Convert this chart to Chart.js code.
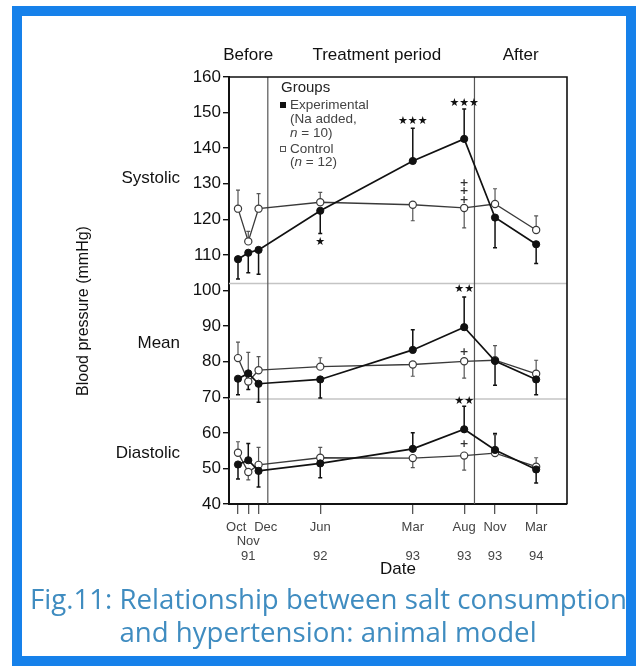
<!DOCTYPE html>
<html>
<head>
<meta charset="utf-8">
<script src="https://cdn.jsdelivr.net/npm/chart.js@4/dist/chart.umd.min.js"></script>
<style>
html,body{margin:0;padding:0;background:#fff;}
#wrap{position:relative;width:641px;height:667px;}
canvas{display:block;}
</style>
</head>
<body>
<div id="wrap"><canvas id="c" width="641" height="667"></canvas></div>
<script>
// ---- data (months since Oct 1991) ----
const months = [0, 1, 2, 8, 17, 22, 25, 29];
const monthLabels = [['Oct ', '', ''], ['', 'Nov', '91'], ['    Dec', '', ''], ['Jun', '', '92'], ['Mar', '', '93'], ['Aug', '', '93'], ['Nov', '', '93'], ['Mar', '', '94']];

const sysExp = [108.8, 110.6, 111.4, 122.4, 136.4, 142.6, 120.5, 113.0];
const sysCtl = [123.0, 113.8, 123.0, 124.8, 124.1, 123.2, 124.3, 117.0];
const meanExp = [75.2, 76.7, 73.8, 75.0, 83.3, 89.7, 80.2, 75.0];
const meanCtl = [81.0, 74.4, 77.6, 78.6, 79.2, 80.1, 80.4, 76.6];
const diaExp = [51.1, 52.3, 49.3, 51.4, 55.5, 61.0, 55.2, 49.7];
const diaCtl = [54.4, 49.0, 51.0, 53.0, 52.9, 53.6, 54.3, 50.5];

// one-sided error bar end values
const sysExpErr = [103.2, 105.0, 104.6, 116.0, 145.6, 151.0, 112.0, 107.6];
const sysCtlErr = [128.2, 116.6, 127.2, 127.6, 119.6, 117.6, 128.6, 121.0];
const meanExpErr = [70.7, 72.2, 68.6, 69.8, 89.0, 98.2, 73.4, 70.7];
const meanCtlErr = [85.5, 82.6, 81.4, 81.1, 75.9, 75.4, 84.5, 80.4];
const diaExpErr = [47.0, 57.0, 44.8, 47.4, 60.0, 67.5, 59.8, 45.9];
const diaCtlErr = [57.5, 46.8, 55.9, 55.9, 50.2, 49.5, 59.5, 53.0];

const yTicks = [40, 50, 60, 70, 80, 90, 100, 110, 120, 130, 140, 150, 160];
const separators = [102, 69.5];
const treatmentBounds = [2.9, 23.0];
const periodLabels = [['Before', 1.0], ['Treatment period', 13.5], ['After', 27.5]];
const rowLabels = [['Systolic', 131.6], ['Mean', 85.2], ['Diastolic', 54.3]];
const sigMarks = [
  ['★', 8, 113.6], ['★★★', 17, 147.6], ['★★★', 22, 152.6],
  ['+', 22, 130.3], ['+', 22, 127.9], ['+', 22, 125.5],
  ['★★', 22, 100.3], ['+', 22, 82.8],
  ['★★', 22, 68.8], ['+', 22, 56.7]
];

const pts = arr => arr.map((v, i) => ({x: months[i], y: v}));

const EXP = '#111';
const CTL = '#3a3a3a';
function expSet(arr) {
  return {data: pts(arr), borderColor: EXP, borderWidth: 1.7, backgroundColor: EXP,
    pointRadius: 3.6, pointBackgroundColor: EXP, pointBorderColor: EXP, pointBorderWidth: 1, tension: 0};
}
function ctlSet(arr) {
  return {data: pts(arr), borderColor: CTL, borderWidth: 1.3, backgroundColor: '#fff',
    pointRadius: 3.6, pointBackgroundColor: '#fff', pointBorderColor: CTL, pointBorderWidth: 1.2, tension: 0};
}

const errSets = [
  [sysExp, sysExpErr, EXP, 1.5], [sysCtl, sysCtlErr, '#555', 1.2],
  [meanExp, meanExpErr, EXP, 1.5], [meanCtl, meanCtlErr, '#555', 1.2],
  [diaExp, diaExpErr, EXP, 1.5], [diaCtl, diaCtlErr, '#555', 1.2]
];

const deco = {
  id: 'deco',
  beforeDraw(chart) {
    const ctx = chart.ctx;
    ctx.save();
    ctx.fillStyle = '#fff';
    ctx.fillRect(0, 0, chart.width, chart.height);
    ctx.strokeStyle = '#1681ea';
    ctx.lineWidth = 10;
    ctx.strokeRect(17, 11, 614, 650);
    ctx.restore();
  },
  beforeDatasetsDraw(chart) {
    const ctx = chart.ctx, xs = chart.scales.x, ys = chart.scales.y, a = chart.chartArea;
    ctx.save();
    ctx.strokeStyle = '#c4c4c4';
    ctx.lineWidth = 1.5;
    separators.forEach(v => {
      const y = ys.getPixelForValue(v);
      ctx.beginPath(); ctx.moveTo(a.left, y); ctx.lineTo(a.right, y); ctx.stroke();
    });
    ctx.strokeStyle = '#555';
    ctx.lineWidth = 1.2;
    treatmentBounds.forEach(v => {
      const x = xs.getPixelForValue(v);
      ctx.beginPath(); ctx.moveTo(x, a.top); ctx.lineTo(x, a.bottom); ctx.stroke();
    });
    errSets.forEach(([vals, ends, col, w]) => {
      ctx.strokeStyle = col; ctx.lineWidth = w;
      vals.forEach((v, i) => {
        const x = xs.getPixelForValue(months[i]);
        const y0 = ys.getPixelForValue(v), y1 = ys.getPixelForValue(ends[i]);
        ctx.beginPath(); ctx.moveTo(x, y0); ctx.lineTo(x, y1);
        ctx.moveTo(x - 2, y1); ctx.lineTo(x + 2, y1); ctx.stroke();
      });
    });
    ctx.restore();
  },
  afterDraw(chart) {
    const ctx = chart.ctx, xs = chart.scales.x, ys = chart.scales.y, a = chart.chartArea;
    ctx.save();
    ctx.strokeStyle = '#111';
    ctx.lineWidth = 1.6;
    ctx.beginPath();
    ctx.moveTo(a.left, a.top); ctx.lineTo(a.right, a.top); ctx.lineTo(a.right, a.bottom);
    ctx.stroke();

    ctx.fillStyle = '#111';
    ctx.textBaseline = 'middle';
    ctx.font = '17px "Liberation Sans", Arial, sans-serif';
    ctx.textAlign = 'center';
    periodLabels.forEach(([t, m]) => ctx.fillText(t, xs.getPixelForValue(m), 55));
    ctx.textAlign = 'right';
    rowLabels.forEach(([t, v]) => ctx.fillText(t, 180, ys.getPixelForValue(v)));
    ctx.save();
    ctx.translate(84, 311);
    ctx.rotate(-Math.PI / 2);
    ctx.textAlign = 'center';
    ctx.font = '16px "Liberation Sans", Arial, sans-serif';
    ctx.fillText('Blood pressure (mmHg)', 0, 0);
    ctx.restore();

    ctx.textAlign = 'center';
    sigMarks.forEach(([t, m, v]) => {
      ctx.font = t === '+' ? 'bold 11px "DejaVu Sans", sans-serif' : '11px "DejaVu Sans", sans-serif';
      ctx.fillStyle = t === '+' ? '#333' : '#111';
      ctx.fillText(t, xs.getPixelForValue(m), ys.getPixelForValue(v));
    });

    ctx.textAlign = 'left';
    ctx.fillStyle = '#222';
    ctx.font = '15px "Liberation Sans", Arial, sans-serif';
    ctx.fillText('Groups', 281, 88);
    ctx.fillStyle = '#111';
    ctx.fillRect(280, 102, 6, 6);
    ctx.strokeStyle = '#555'; ctx.lineWidth = 1;
    ctx.strokeRect(280.5, 146.5, 5, 5);
    ctx.fillStyle = '#444';
    ctx.font = '13.5px "Liberation Sans", Arial, sans-serif';
    ctx.fillText('Experimental', 290, 105);
    ctx.fillText('(Na added,', 290, 119);
    ctx.fillText('Control', 290, 149);
    const italicLine = (y, pre, post) => {
      ctx.font = '13.5px "Liberation Sans", Arial, sans-serif';
      let x = 290;
      ctx.fillText(pre, x, y); x += ctx.measureText(pre).width;
      ctx.font = 'italic 13.5px "Liberation Sans", Arial, sans-serif';
      ctx.fillText('n', x, y); x += ctx.measureText('n').width;
      ctx.font = '13.5px "Liberation Sans", Arial, sans-serif';
      ctx.fillText(post, x, y);
    };
    italicLine(133, '', ' = 10)');
    italicLine(162, '(', ' = 12)');

    ctx.fillStyle = '#3f8cc0';
    ctx.textAlign = 'left';
    const cap1 = 'Fig.11: Relationship between salt consumption';
    const cap2 = 'and hypertension: animal model';
    ctx.font = '27px "Open Sans", "Noto Sans", sans-serif';
    const w1 = ctx.measureText(cap1).width;
    const sx = 597 / w1;
    ctx.save();
    ctx.translate(30, 601);
    ctx.scale(sx, 1);
    ctx.fillText(cap1, 0, 0);
    ctx.restore();
    const w2 = ctx.measureText(cap2).width * sx;
    ctx.save();
    ctx.translate(328 - w2 / 2, 634);
    ctx.scale(sx, 1);
    ctx.fillText(cap2, 0, 0);
    ctx.restore();
    ctx.restore();
  }
};

new Chart(document.getElementById('c'), {
  type: 'line',
  data: {
    datasets: [expSet(sysExp), ctlSet(sysCtl), expSet(meanExp), ctlSet(meanCtl), expSet(diaExp), ctlSet(diaCtl)]
  },
  options: {
    responsive: false,
    animation: false,
    events: [],
    layout: {padding: {left: 184, right: 74, top: 77, bottom: 83}},
    plugins: {legend: {display: false}, tooltip: {enabled: false}},
    scales: {
      x: {
        type: 'linear', min: -0.875, max: 32,
        afterBuildTicks: s => { s.ticks = months.map(v => ({value: v})); },
        afterFit: s => { s.height = 80; },
        border: {color: '#111', width: 2},
        grid: {drawOnChartArea: false, drawTicks: true, tickLength: 10, color: '#555', lineWidth: 1.3},
        ticks: {
          autoSkip: false, maxRotation: 0, minRotation: 0, padding: 6, color: '#444',
          font: {family: '"Liberation Sans", Arial, sans-serif', size: 13, lineHeight: '14.5px'},
          callback: (v, i) => monthLabels[i]
        },
        title: {display: true, text: 'Date', color: '#111', padding: {top: 0, bottom: 4},
          font: {family: '"Liberation Sans", Arial, sans-serif', size: 17}}
      },
      y: {
        type: 'linear', min: 40, max: 160,
        afterBuildTicks: s => { s.ticks = yTicks.map(v => ({value: v})); },
        afterFit: s => { s.width = 45; },
        border: {color: '#111', width: 2},
        grid: {drawOnChartArea: false, drawTicks: true, tickLength: 6, color: '#111', lineWidth: 1.4},
        ticks: {padding: 2, color: '#111',
          font: {family: '"Liberation Sans", Arial, sans-serif', size: 17}}
      }
    }
  },
  plugins: [deco]
});
</script>
</body>
</html>
